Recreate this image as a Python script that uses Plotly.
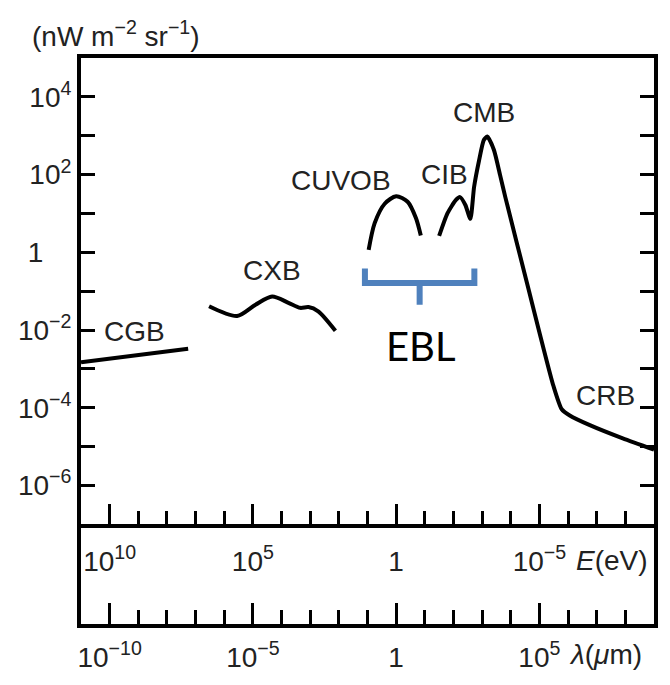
import numpy as np
import plotly.graph_objects as go

# ---- data (log10 values) ----
# x: log10 E (eV), y: log10 intensity (nW m^-2 sr^-1)
cgb_logE = [11.0, 7.26]
cgb_logI = [-2.83, -2.48]

cxb_logE = [6.53, 5.55, 4.91, 4.33, 3.76, 3.35, 3.06, 2.72, 2.12]
cxb_logI = [-1.39, -1.64, -1.35, -1.14, -1.30, -1.43, -1.41, -1.52, -2.02]

cuvob_logE = [0.96, 0.75, 0.40, 0.0, -0.40, -0.69, -0.86]
cuvob_logI = [0.06, 0.75, 1.25, 1.44, 1.30, 0.88, 0.43]

cib_cmb_crb_logE = [-1.50, -1.79, -2.08, -2.23, -2.42, -2.59, -2.72, -2.89, -3.06, -3.18,
                    -3.41, -3.63, -3.81, -4.56, -5.49, -5.78, -6.06, -6.76, -7.91, -9.0]
cib_cmb_crb_logI = [0.42, 1.00, 1.34, 1.42, 1.21, 0.86, 1.68, 2.35, 2.89, 2.98,
                    2.64, 1.98, 1.42, -0.77, -3.44, -4.04, -4.20, -4.45, -4.79, -5.08]

# component labels: (text, log10 E, log10 I)
label_names = ["CGB", "CXB", "CUVOB", "CIB", "CMB", "CRB"]
label_logE = [9.13, 4.34, 1.94, -1.67, -3.08, -7.30]
label_logI = [-2.05, -0.47, 1.86, 1.99, 3.61, -3.68]

# EBL bracket (log10 E / log10 I)
ebl_left, ebl_center, ebl_right = 1.09, -0.82, -2.73
ebl_top, ebl_bar, ebl_bottom = -0.42, -0.79, -1.35
ebl_text_logE, ebl_text_logI = -0.87, -2.42

# axes ticks
E_major = [1e10, 1e5, 1, 1e-5]
E_major_text = ["10<sup>10</sup>", "10<sup>5</sup>", "1", "10<sup>\u22125</sup>"]
E_minor = [10.0 ** k for k in range(-8, 11) if k % 5 != 0]
lam_major = [1e-10, 1e-5, 1, 1e5]
lam_major_text = ["10<sup>\u221210</sup>", "10<sup>\u22125</sup>", "1", "10<sup>5</sup>"]
lam_minor = [10.0 ** k for k in range(-10, 9) if k % 5 != 0]
I_ticks = [10.0 ** k for k in range(-6, 5)]
I_text = {4: "10<sup>4</sup>", 2: "10<sup>2</sup>", 0: "1\u2002\u2002", -2: "10<sup>\u22122</sup>",
          -4: "10<sup>\u22124</sup>", -6: "10<sup>\u22126</sup>"}
I_ticktext = [I_text.get(k, "") for k in range(-6, 5)]

FONT = "Liberation Sans Narrow, Arial Narrow, Liberation Sans, Arial, sans-serif"
TXT = "#222222"
LW = 4

def pw(a):
    return list(10.0 ** np.array(a))

fig = go.Figure()
curve = dict(color="black", width=LW)
fig.add_trace(go.Scatter(x=pw(cgb_logE), y=pw(cgb_logI), mode="lines", line=curve, hoverinfo="skip"))
fig.add_trace(go.Scatter(x=pw(cxb_logE), y=pw(cxb_logI), mode="lines",
                         line=dict(color="black", width=LW, shape="spline", smoothing=0.8), hoverinfo="skip"))
fig.add_trace(go.Scatter(x=pw(cuvob_logE), y=pw(cuvob_logI), mode="lines",
                         line=dict(color="black", width=LW, shape="spline", smoothing=0.8), hoverinfo="skip"))
fig.add_trace(go.Scatter(x=pw(cib_cmb_crb_logE), y=pw(cib_cmb_crb_logI), mode="lines",
                         line=dict(color="black", width=LW, shape="spline", smoothing=0.6), hoverinfo="skip"))

# EBL bracket
bx = [ebl_left, ebl_left, ebl_center, ebl_center, ebl_center, ebl_right, ebl_right]
by = [ebl_top, ebl_bar, ebl_bar, ebl_bottom, ebl_bar, ebl_bar, ebl_top]
fig.add_trace(go.Scatter(x=pw(bx), y=pw(by), mode="lines",
                         line=dict(color="#4F81BD", width=6), hoverinfo="skip"))

# dummy trace for the wavelength axis panel
fig.add_trace(go.Scatter(x=[], y=[], xaxis="x2", yaxis="y2", hoverinfo="skip"))

for name, lx, ly in zip(label_names, label_logE, label_logI):
    fig.add_annotation(x=lx, y=ly, xref="x", yref="y", text=name, showarrow=False,
                       font=dict(family=FONT, size=28, color=TXT))
fig.add_annotation(x=ebl_text_logE, y=ebl_text_logI, xref="x", yref="y", text="EBL", showarrow=False,
                   font=dict(family="Lato, Open Sans, sans-serif", size=40, color="black"))

fig.add_annotation(x=(577 - 81) / 577, y=(637 - 572) / 579, xref="paper", yref="paper",
                   text="<i>E</i>(eV)", showarrow=False, xanchor="left", yanchor="middle",
                   font=dict(family=FONT, size=28, color=TXT))
fig.add_annotation(x=(570 - 81) / 577, y=(637 - 668) / 579, xref="paper", yref="paper",
                   text="<i>\u03bb</i>(<i>\u03bc</i>m)", showarrow=False, xanchor="left", yanchor="middle",
                   font=dict(family=FONT, size=28, color=TXT))
fig.add_annotation(x=(30 - 81) / 577, y=(637 - 33) / 579, xref="paper", yref="paper",
                   text="(nW m<sup>\u22122</sup> sr<sup>\u22121</sup>)", showarrow=False,
                   xanchor="left", yanchor="middle",
                   font=dict(family=FONT, size=28, color=TXT))

split = 102 / 579
tickfont = dict(family=FONT, size=28, color=TXT)
fig.update_layout(
    width=670, height=685,
    margin=dict(l=81, r=12, t=58, b=48),
    paper_bgcolor="white", plot_bgcolor="white",
    showlegend=False,
    xaxis=dict(type="log", range=[11, -9], domain=[0, 1], anchor="y",
               showline=True, linewidth=LW, linecolor="black", mirror=True,
               ticks="inside", ticklen=20, tickwidth=3, tickcolor="black",
               tickmode="array", tickvals=E_major, ticktext=E_major_text, tickfont=tickfont,
               ticklabelstandoff=9,
               minor=dict(tickmode="array", tickvals=E_minor, ticks="inside", ticklen=13,
                          tickwidth=3, tickcolor="black", showgrid=False),
               showgrid=False, zeroline=False),
    yaxis=dict(type="log", range=[-7, 5], domain=[split, 1], anchor="x",
               showline=True, linewidth=LW, linecolor="black", mirror="ticks",
               ticks="inside", ticklen=14, tickwidth=3, tickcolor="black",
               tickmode="array", tickvals=I_ticks, ticktext=I_ticktext, tickfont=tickfont,
               showgrid=False, zeroline=False),
    xaxis2=dict(type="log", range=[-11, 9], domain=[0, 1], anchor="y2",
                showline=True, linewidth=LW, linecolor="black",
                ticks="inside", ticklen=21, tickwidth=3, tickcolor="black",
                tickmode="array", tickvals=lam_major, ticktext=lam_major_text, tickfont=tickfont,
                ticklabelstandoff=5,
                minor=dict(tickmode="array", tickvals=lam_minor, ticks="inside", ticklen=14,
                           tickwidth=3, tickcolor="black", showgrid=False),
                showgrid=False, zeroline=False),
    yaxis2=dict(range=[0, 1], domain=[0, split], anchor="x2",
                showline=True, linewidth=LW, linecolor="black", mirror=True,
                ticks="", showticklabels=False, showgrid=False, zeroline=False),
)

fig.write_html("out.html")
